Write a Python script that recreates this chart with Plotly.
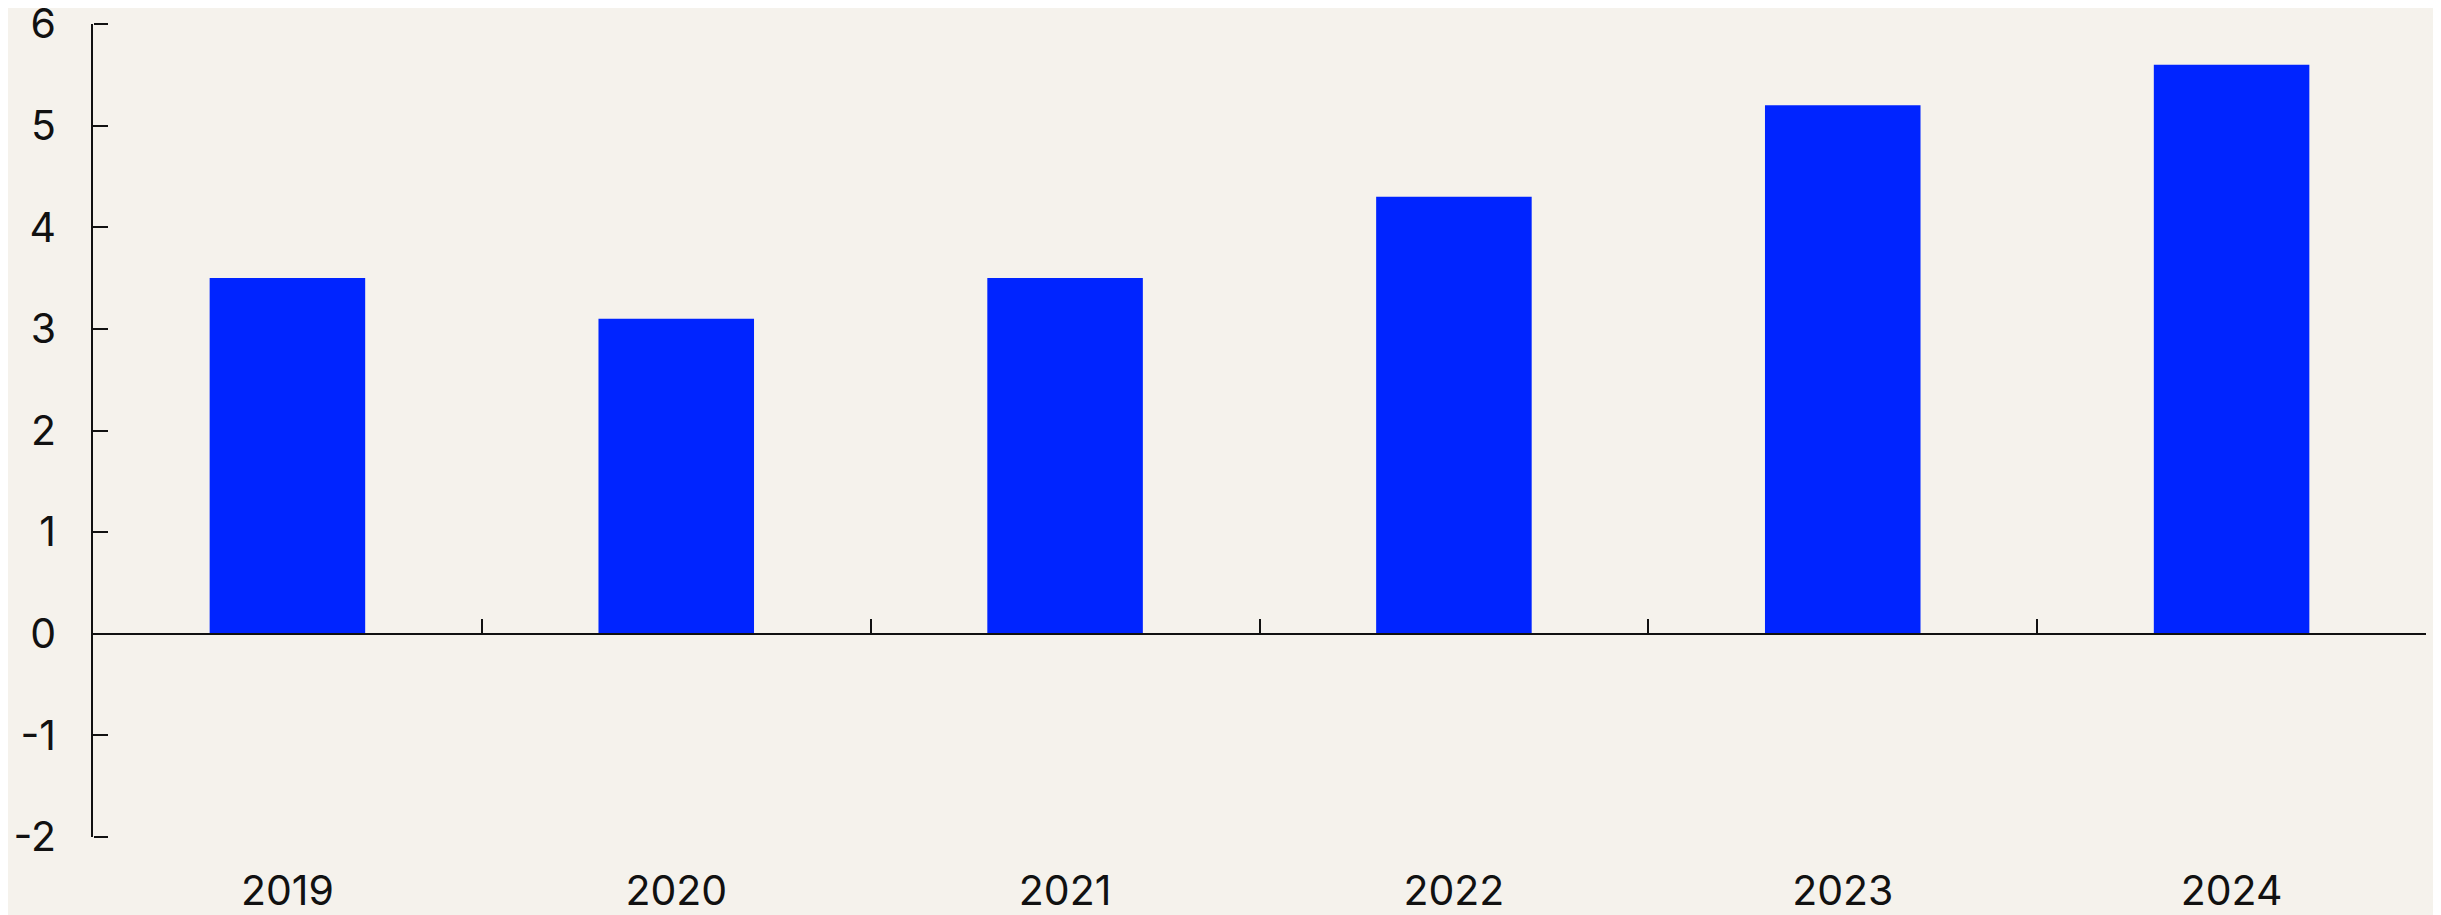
import plotly.graph_objects as go

years = ["2019", "2020", "2021", "2022", "2023", "2024"]
values = [3.5, 3.1, 3.5, 4.3, 5.2, 5.6]
y_ticks = [-2, -1, 0, 1, 2, 3, 4, 5, 6]
y_labels = ["-2", "-1", "0", "1", "2", "3", "4", "5", "6"]

BG = "#F5F2EC"
BAR = "#0024FF"
INK = "#111111"
FONT = dict(family="Inter, Liberation Sans, sans-serif", size=41, color=INK)

fig = go.Figure()
fig.add_trace(go.Bar(x=years, y=values, marker=dict(color=BAR, line=dict(width=0)),
                     width=0.4, hoverinfo="skip", showlegend=False))
fig.add_trace(go.Scatter(x=years, y=[0] * len(years), xaxis="x2", yaxis="y2",
                         mode="markers", marker=dict(opacity=0),
                         hoverinfo="skip", showlegend=False))

fig.update_layout(
    width=2425, height=907,
    paper_bgcolor=BG, plot_bgcolor=BG,
    margin=dict(l=85, r=7, t=16, b=78, autoexpand=False),
    font=FONT,
    xaxis=dict(type="category", categoryorder="array", categoryarray=years,
               showline=False, showgrid=False, zeroline=False, ticks="",
               automargin=False, ticklabelstandoff=26, tickfont=FONT,
               ticklabeloverflow="allow"),
    xaxis2=dict(type="category", categoryorder="array", categoryarray=years,
                overlaying="x", anchor="free", position=0.25, matches="x",
                showline=True, linecolor=INK, linewidth=1.5,
                ticks="inside", ticklen=14, tickwidth=1.5, tickcolor=INK,
                tickson="boundaries", showticklabels=False, showgrid=False,
                zeroline=False, automargin=False),
    yaxis=dict(range=[-2, 6], tickvals=y_ticks, ticktext=y_labels,
               showline=True, linecolor=INK, linewidth=1.5,
               ticks="inside", ticklen=14, tickwidth=1.5, tickcolor=INK,
               showgrid=False, zeroline=False, automargin=False,
               ticklabelstandoff=27, tickfont=FONT, ticklabeloverflow="allow"),
    yaxis2=dict(range=[-2, 6], tickvals=y_ticks, overlaying="y", matches="y",
                anchor="free", position=0, side="right", showline=False,
                ticks="outside", ticklen=14, tickwidth=1.5, tickcolor=INK,
                showticklabels=False, showgrid=False, zeroline=False,
                automargin=False),
)

fig.write_html("out.html")
